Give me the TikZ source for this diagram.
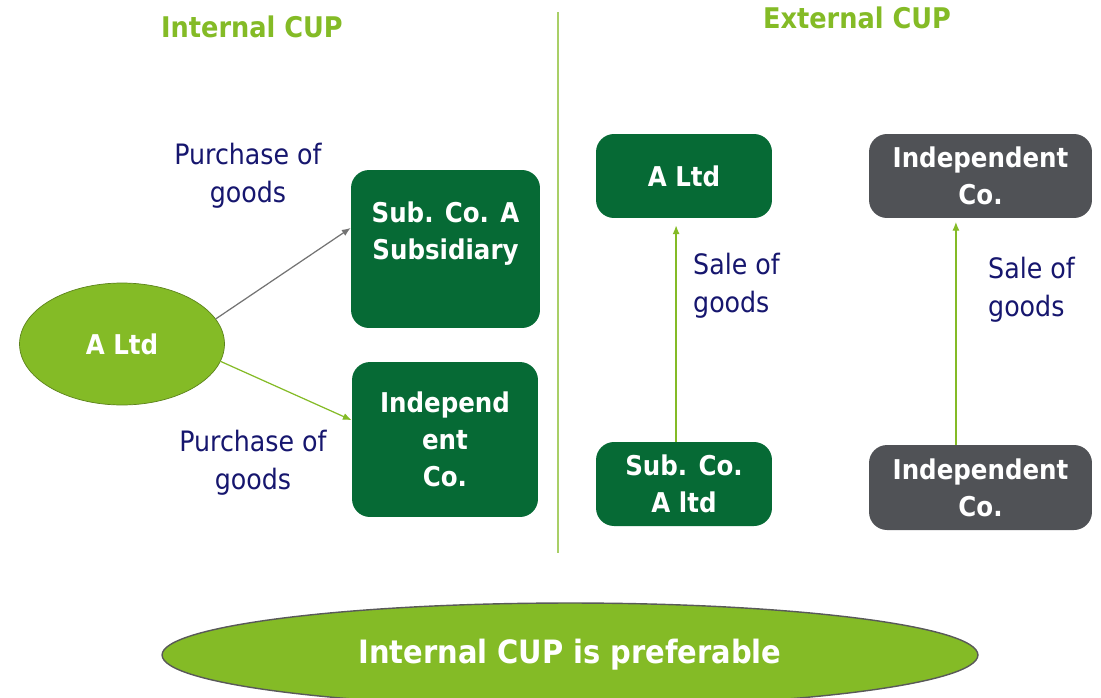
\documentclass[tikz,border=0pt]{standalone}
\usepackage{fontspec}
\setmainfont{DejaVu Sans Condensed}
\usetikzlibrary{arrows.meta,shapes.geometric}
\definecolor{lgreen}{HTML}{84BB26}
\definecolor{dgreen}{HTML}{066A35}
\definecolor{cogray}{HTML}{505256}
\definecolor{navy}{HTML}{16166E}
\tikzset{bx/.append style={fill=dgreen,rounded corners=0.36cm,text=white,font=\fontsize{15.5}{21}\selectfont\bfseries,align=center,inner sep=0pt}}
\tikzset{gy/.append style={fill=cogray}}
\tikzset{lb/.append style={text=navy,font=\fontsize{16}{21.5}\selectfont}}
\tikzset{ttl/.append style={text=lgreen,font=\fontsize{16.2}{20}\selectfont\bfseries}}

\begin{document}
\begin{tikzpicture}[x=0.02cm,y=-0.02cm]
                \clip (0,0) rectangle (1101,697);
                % titles
                \node[ttl] (tint) at (252,27) {Internal CUP};
                \node[ttl] (text) at (857,18) {External CUP};
                \draw[lgreen!70,line width=0.6pt] (558,12) -- (558,553);
                % internal
                \node[ellipse,fill=lgreen,draw=lgreen!70!black,minimum width=4.1cm,minimum height=2.44cm,inner sep=0pt,text=white,font=\fontsize{15.5}{21}\selectfont\bfseries] (altd) at (122,344) {A Ltd};
                \node[bx,minimum width=3.78cm,minimum height=3.16cm] (sub) at (445.5,249) {Sub. Co. A\\Subsidiary\\~};
                \node[bx,minimum width=3.72cm,minimum height=3.1cm] (ind) at (445,439.5) {Independ\\ent\\Co.};
                \node[lb,align=center] (p1) at (248,176) {Purchase of\\goods};
                \node[lb,align=center] (p2) at (253,463) {Purchase of\\goods};
                \path (altd.15) edge[-{Latex[length=5pt,width=4pt]},draw=black!55,line width=0.7pt] ([yshift=12pt]sub.west);
                \path (altd.-10) edge[-{Latex[length=5pt,width=4pt]},draw=lgreen,line width=0.7pt] ([yshift=11pt]ind.west);
                % external
                \node[bx,minimum width=3.52cm,minimum height=1.68cm] (exa) at (684,176) {A Ltd};
                \node[bx,minimum width=3.52cm,minimum height=1.68cm] (exs) at (684,484) {Sub. Co.\\A ltd};
                \node[bx,gy,minimum width=4.46cm,minimum height=1.68cm] (it) at (980.5,176) {Independent\\Co.};
                \node[bx,gy,minimum width=4.46cm,minimum height=1.7cm] (ib) at (980.5,487.5) {Independent\\Co.};
                \path ([xshift=-4.5pt]exs.north) edge[-{Latex[length=5pt,width=4pt]},draw=lgreen,line width=0.7pt,shorten >=4pt] ([xshift=-4.5pt]exa.south);
                \path ([xshift=-14pt]ib.north) edge[-{Latex[length=5pt,width=4pt]},draw=lgreen,line width=0.7pt,shorten >=2pt] ([xshift=-14pt]it.south);
                \node[lb,align=left,anchor=west] (s1) at (687,286) {Sale of\\goods};
                \node[lb,align=left,anchor=west] (s2) at (982,290) {Sale of\\goods};
                % result
                \node[ellipse,fill=lgreen,draw=black!65,line width=0.8pt,minimum width=16.32cm,minimum height=2.08cm,inner sep=0pt,text=white,font=\fontsize{18.3}{22}\selectfont\bfseries] (pref) at (570,655) {Internal CUP is preferable};
            \end{tikzpicture}
\end{document}
